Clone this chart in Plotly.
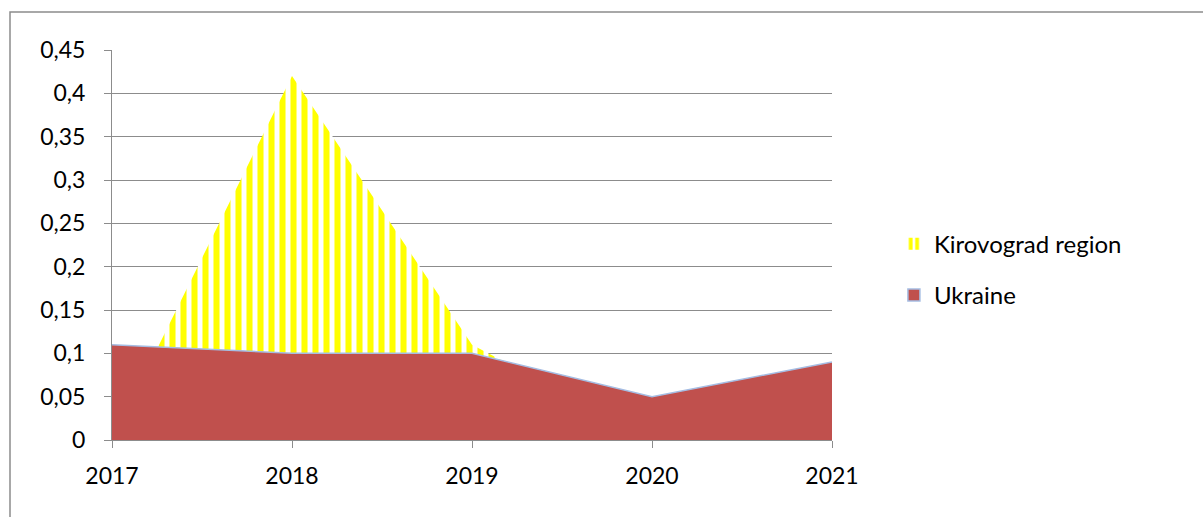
import plotly.graph_objects as go

years = [2017, 2018, 2019, 2020, 2021]
kirovograd = [0.0, 0.42, 0.11, 0.0, 0.0]
ukraine = [0.11, 0.10, 0.10, 0.05, 0.09]
ytick_vals = [0, 0.05, 0.1, 0.15, 0.2, 0.25, 0.3, 0.35, 0.4, 0.45]
ytick_text = ["0", "0,05", "0,1", "0,15", "0,2", "0,25", "0,3", "0,35", "0,4", "0,45"]
xtick_text = ["2017", "2018", "2019", "2020", "2021"]

FONT = "Lato, Carlito, Calibri, sans-serif"
GRID = "#8c8c8c"
YELLOW = "#FFFF00"
RED = "#C0504D"
EDGE = "#A5BDE3"

fig = go.Figure()
fig.add_trace(go.Scatter(
    x=years, y=kirovograd, name="Kirovograd region", mode="lines",
    line=dict(width=0, color=YELLOW), fill="tozeroy",
    fillpattern=dict(shape="|", fgcolor=YELLOW, bgcolor="white",
                     size=11, solidity=0.55, fillmode="replace"),
    showlegend=False,
))
fig.add_trace(go.Scatter(
    x=years, y=ukraine, name="Ukraine", mode="lines",
    line=dict(width=1.5, color=EDGE), fill="tozeroy",
    fillcolor=RED, showlegend=False,
))
# legend-only entries
fig.add_trace(go.Bar(
    x=[None], y=[None], name="Kirovograd region", legendgroup="a",
    marker=dict(color="white", line=dict(width=0),
                pattern=dict(shape="|", fgcolor=YELLOW, bgcolor="white",
                             size=8, solidity=0.6, fillmode="replace")),
))
fig.add_trace(go.Bar(
    x=[None], y=[None], name="Ukraine", legendgroup="b",
    marker=dict(color=RED, line=dict(width=1.5, color=EDGE)),
))

fig.update_layout(
    width=1203, height=517,
    margin=dict(l=112, r=371, t=50, b=77),
    paper_bgcolor="white", plot_bgcolor="white",
    font=dict(family=FONT, size=23, color="#000000"),
    showlegend=True,
    legend=dict(x=1.086, xanchor="left", y=0.56, yanchor="top",
                font=dict(family=FONT, size=24), tracegroupgap=17,
                itemwidth=30, bgcolor="rgba(0,0,0,0)", traceorder="grouped"),
    xaxis=dict(range=[2017, 2021], tickvals=years, ticktext=xtick_text,
               showgrid=False, zeroline=False, showline=True,
               linecolor=GRID, linewidth=1, ticks="outside", ticklen=7,
               tickcolor=GRID, tickfont=dict(family=FONT, size=23),
               ticklabelstandoff=8),
    yaxis=dict(range=[0, 0.45], tickvals=ytick_vals, ticktext=ytick_text,
               showgrid=True, gridcolor=GRID, gridwidth=1, zeroline=False,
               showline=True, linecolor=GRID, linewidth=1, ticks="outside",
               ticklen=7, tickcolor=GRID, tickfont=dict(family=FONT, size=23),
               ticklabelstandoff=14),
    shapes=[dict(type="rect", xref="paper", yref="paper",
                 x0=(10 - 112) / 720, x1=(1210 - 112) / 720,
                 y0=(440 - 540) / 390, y1=(440 - 12) / 390,
                 line=dict(color="#8c8c8c", width=1.5), layer="below")],
)

fig.write_html("out.html")
